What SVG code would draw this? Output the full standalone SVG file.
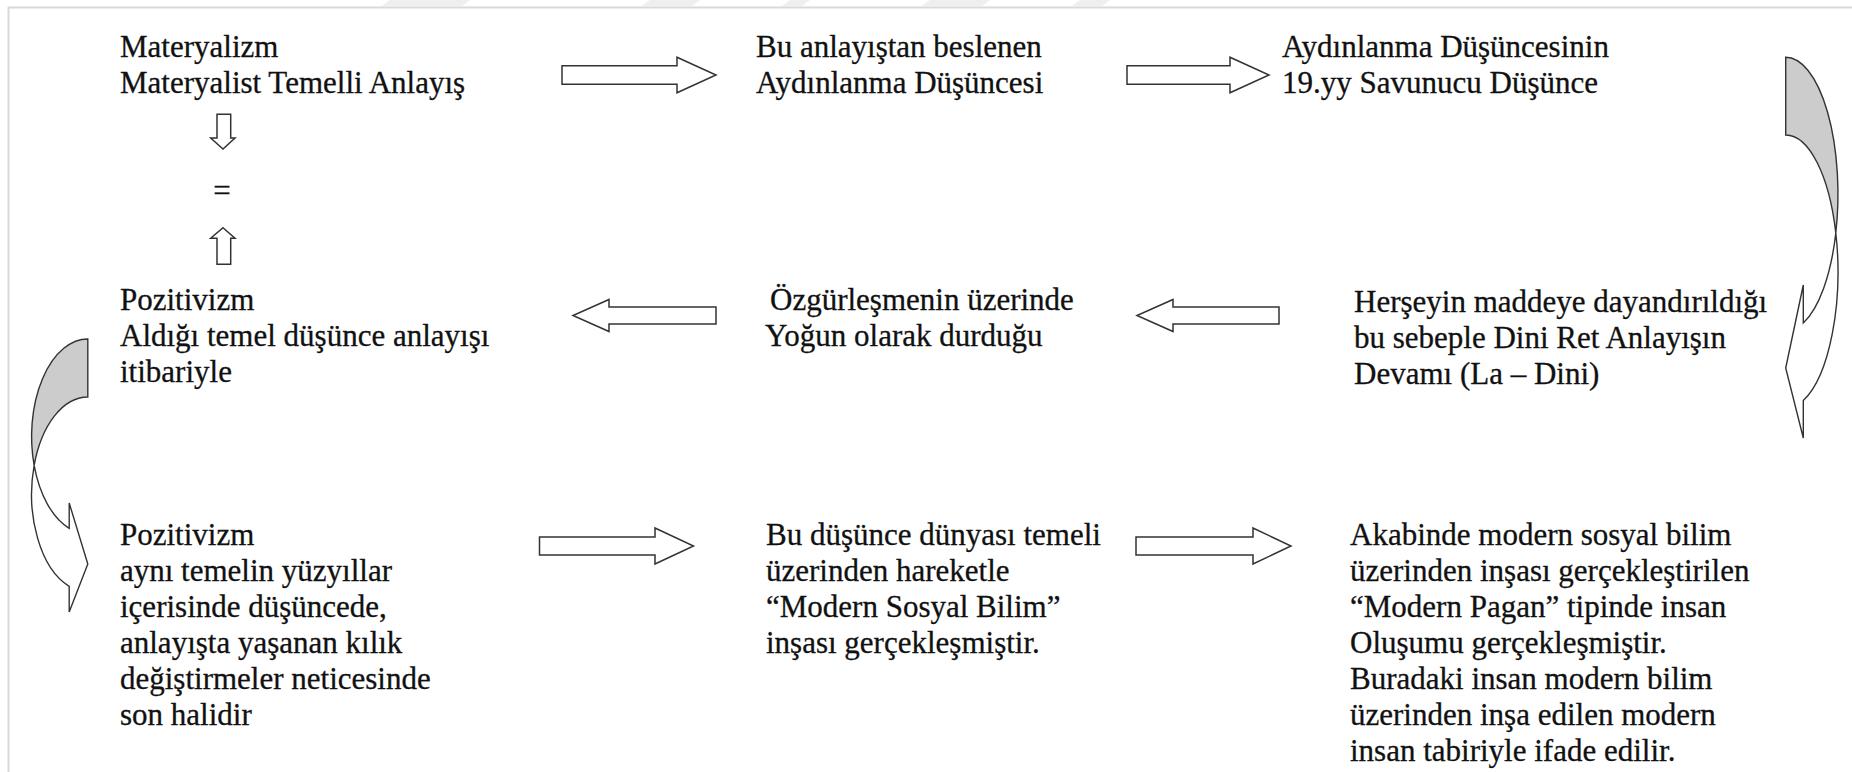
<svg xmlns="http://www.w3.org/2000/svg" width="1852" height="772" viewBox="0 0 1852 772">
<style>
text{font-family:"Liberation Serif","Times New Roman",serif;font-size:31px;fill:#111;stroke:#111;stroke-width:0.3}
.blk{fill:#fff;stroke:#333;stroke-width:1.5;stroke-linejoin:miter}
.back{fill:#cccccc;stroke:#333;stroke-width:1.4}
.front{fill:#fff;stroke:#333;stroke-width:1.4}
.frame{stroke:#d9d9d9;stroke-width:2;fill:none}
.wm{fill:#efefef}
</style>
<rect width="1852" height="772" fill="#fff"/>
<g id="watermark">
<polygon class="wm" points="390,0 470,0 462,6 382,6"/>
<polygon class="wm" points="650,0 700,0 692,6 642,6"/>
<polygon class="wm" points="790,0 810,0 802,6 782,6"/>
<polygon class="wm" points="930,0 990,0 982,6 922,6"/>
<polygon class="wm" points="1080,0 1110,0 1102,6 1072,6"/>
</g>
<g id="frame">
<line class="frame" x1="8" y1="7.5" x2="1852" y2="7.5"/>
<line class="frame" x1="8.5" y1="7" x2="8.5" y2="772"/>
</g>
<g id="connectors">
<path class="blk" d="M562,65.8 H677 V57.2 L716,75 L677,92.8 V84.2 H562 Z"/>
<path class="blk" d="M1127,65.8 H1230 V57.2 L1269,75 L1230,92.8 V84.2 H1127 Z"/>
<path class="blk" d="M716,307 H609 V299.5 L573,315.5 L609,331.5 V324 H716 Z"/>
<path class="blk" d="M1279,307 H1173 V299.5 L1137,315.5 L1173,331.5 V324 H1279 Z"/>
<path class="blk" d="M539.5,537 H655 V528 L693.5,546 L655,564 V555 H539.5 Z"/>
<path class="blk" d="M1136,537 H1253 V528 L1291,546 L1253,564 V555 H1136 Z"/>
<path class="blk" d="M217,114.3 H230.7 V138 H235 L223,149 L210.7,138 H217 Z"/>
<path class="blk" d="M223,227.7 L235,238.3 H230.7 V264.3 H217 V238.3 H210.7 Z"/>
<g id="curved-right">
<path class="back" d="M1785.7,57.3 A52.3 136.8 0 0 1 1835.8,233 A52.3 136.8 0 0 0 1785.7,135 Z"/>
<path class="front" d="M1803.3,285 L1785.7,368 L1803.3,438 L1803.3,400.6 A52.3 136.8 0 0 0 1835.8,233 A52.3 136.8 0 0 1 1803.3,323 Z"/>
</g>
<g id="curved-left">
<path class="back" d="M87.8,339 A56.2 97.4 0 0 0 34.15,465.4 A56.2 97.4 0 0 1 87.8,397 Z"/>
<path class="front" d="M69.2,503 L87.8,564 L69.2,612 L69.2,586.3 A56.2 97.4 0 0 1 34.15,465.4 A56.2 97.4 0 0 0 69.2,528.3 Z"/>
</g>
</g>
<g id="n-materyalizm">
<text x="120" y="57">Materyalizm</text>
<text x="120" y="93">Materyalist Temelli Anlayış</text>
</g>
<g id="n-equal">
<text x="222" y="201" text-anchor="middle">=</text>
</g>
<g id="n-aydinlanma">
<text x="756" y="57">Bu anlayıştan beslenen</text>
<text x="756" y="93">Aydınlanma Düşüncesi</text>
</g>
<g id="n-savunucu">
<text x="1282" y="57">Aydınlanma Düşüncesinin</text>
<text x="1282" y="93">19.yy Savunucu Düşünce</text>
</g>
<g id="n-herseyin">
<text x="1354" y="312">Herşeyin maddeye dayandırıldığı</text>
<text x="1354" y="348">bu sebeple Dini Ret Anlayışın</text>
<text x="1354" y="384">Devamı (La – Dini)</text>
</g>
<g id="n-ozgurlesme">
<text x="770" y="310">Özgürleşmenin üzerinde</text>
<text x="765" y="346">Yoğun olarak durduğu</text>
</g>
<g id="n-pozitivizm1">
<text x="120" y="310">Pozitivizm</text>
<text x="120" y="346">Aldığı temel düşünce anlayışı</text>
<text x="120" y="382">itibariyle</text>
</g>
<g id="n-pozitivizm2">
<text x="120" y="545">Pozitivizm</text>
<text x="120" y="581">aynı temelin yüzyıllar</text>
<text x="120" y="617">içerisinde düşüncede,</text>
<text x="120" y="653">anlayışta yaşanan kılık</text>
<text x="120" y="689">değiştirmeler neticesinde</text>
<text x="120" y="725">son halidir</text>
</g>
<g id="n-sosyal-bilim">
<text x="766" y="545">Bu düşünce dünyası temeli</text>
<text x="766" y="581">üzerinden hareketle</text>
<text x="766" y="617">“Modern Sosyal Bilim”</text>
<text x="766" y="653">inşası gerçekleşmiştir.</text>
</g>
<g id="n-modern-pagan">
<text x="1350" y="545">Akabinde modern sosyal bilim</text>
<text x="1350" y="581">üzerinden inşası gerçekleştirilen</text>
<text x="1350" y="617">“Modern Pagan” tipinde insan</text>
<text x="1350" y="653">Oluşumu gerçekleşmiştir.</text>
<text x="1350" y="689">Buradaki insan modern bilim</text>
<text x="1350" y="725">üzerinden inşa edilen modern</text>
<text x="1350" y="761">insan tabiriyle ifade edilir.</text>
</g>
</svg>
